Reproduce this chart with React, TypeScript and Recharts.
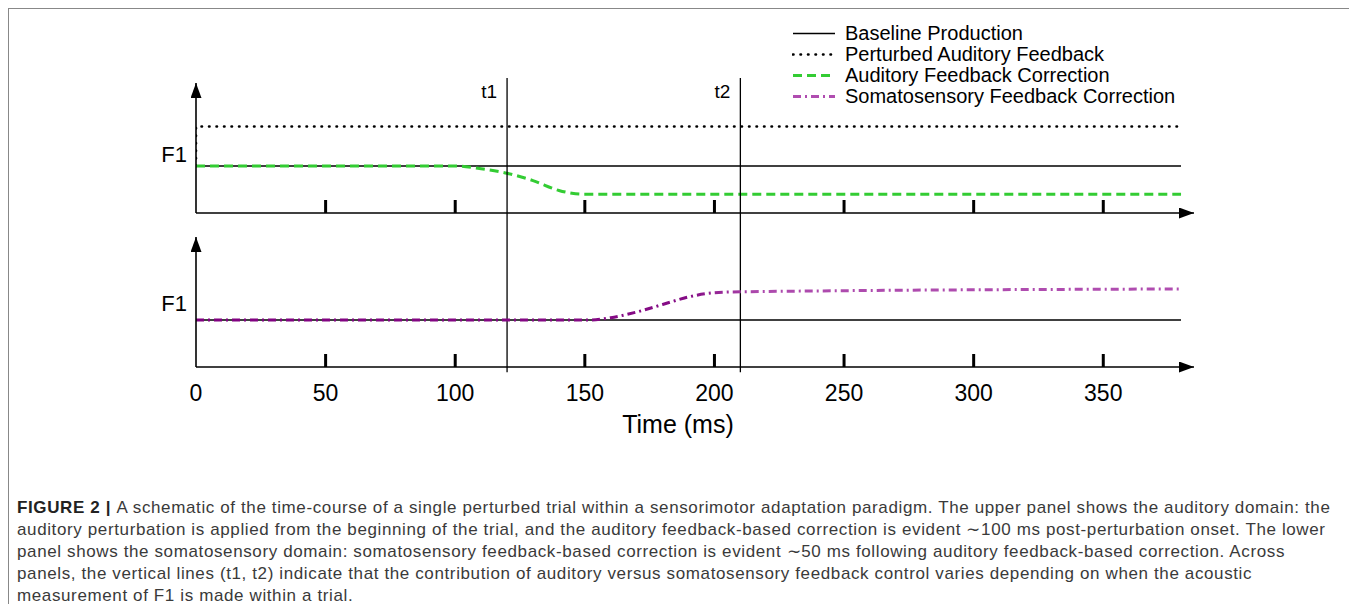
import React from "react";
import { LineChart, Line, XAxis, YAxis, ReferenceLine, Legend } from "recharts";

// time axis (ms)
const TICKS = [0, 50, 100, 150, 200, 250, 300, 350];
const T1 = 120;
const T2 = 210;

// F1 in arbitrary units (baseline = 1)
const baselineTime = [0, 380];
const baselineF1 = [1, 1];

const perturbedTime = [0, 0, 380];
const perturbedF1 = [1, 1.84, 1.84];

const auditoryTime = [0, 100, 110, 120, 130, 140, 145, 150, 380];
const auditoryF1 = [1, 1, 0.94, 0.845, 0.69, 0.48, 0.42, 0.4, 0.4];

const somaTime = [0, 152, 160, 170, 180, 190, 200, 210, 380];
const somaF1 = [1, 1, 1.05, 1.17, 1.33, 1.49, 1.58, 1.6, 1.66];

const LEGEND = [
  { name: "Baseline Production", color: "#000", dash: "", width: 1.4, cap: "butt" },
  { name: "Perturbed Auditory Feedback", color: "#000", dash: "0.5 7", width: 2.6, cap: "round" },
  { name: "Auditory Feedback Correction", color: "#33cc33", dash: "9 5", width: 3, cap: "butt" },
  { name: "Somatosensory Feedback Correction", color: "#b04db0", dash: "8 4 2 4", width: 3, cap: "butt" },
];

const CAPTION = [
  "A schematic of the time-course of a single perturbed trial within a sensorimotor adaptation paradigm. The upper panel shows the auditory domain: the",
  "auditory perturbation is applied from the beginning of the trial, and the auditory feedback-based correction is evident \u223C100 ms post-perturbation onset. The lower",
  "panel shows the somatosensory domain: somatosensory feedback-based correction is evident \u223C50 ms following auditory feedback-based correction. Across",
  "panels, the vertical lines (t1, t2) indicate that the contribution of auditory versus somatosensory feedback control varies depending on when the acoustic",
  "measurement of F1 is made within a trial.",
];

const toPoints = (ts: number[], vs: number[]) => ts.map((t, i) => ({ t, v: vs[i] }));

const FONT = "'Liberation Sans', Arial, sans-serif";
const W = 1200;
const H = 420;
const Y_MAX = 2.766;
const X_MAX = 385;

const makeTick = (showLabel: boolean) => (props: any) => {
  const { x, y, payload } = props;
  return (
    <g>
      {payload.value !== 0 && (
        <line x1={x} x2={x} y1={y} y2={y - 13} stroke="#000" strokeWidth={3} />
      )}
      {showLabel && (
        <text x={x} y={y + 34} textAnchor="middle" fontSize={23} fontFamily={FONT} fill="#000">
          {payload.value}
        </text>
      )}
    </g>
  );
};

const Arrows = () => (
  <defs>
    <marker id="arrowHead" viewBox="0 0 15 11" refX="15" refY="5.5" markerWidth="15" markerHeight="11"
      markerUnits="userSpaceOnUse" orient="auto-start-reverse">
      <path d="M0,0 L15,5.5 L0,11 z" fill="#000" />
    </marker>
    <linearGradient id="somaGrad" x1="0" x2="1" y1="0" y2="0">
      <stop offset="0" stopColor="#800080" />
      <stop offset="0.5" stopColor="#850c85" />
      <stop offset="0.57" stopColor="#ad4aad" />
      <stop offset="1" stopColor="#b04db0" />
    </linearGradient>
  </defs>
);

const LegendBox = () => (
  <div style={{ fontFamily: FONT, fontSize: 20, color: "#000" }}>
    {LEGEND.map((item) => (
      <div key={item.name} style={{ display: "flex", alignItems: "center", height: 21, whiteSpace: "nowrap" }}>
        <svg width={44} height={21} style={{ marginRight: 9 }}>
          <line x1={1} x2={43} y1={10.5} y2={10.5} stroke={item.color} strokeWidth={item.width}
            strokeDasharray={item.dash} strokeLinecap={item.cap as any} />
        </svg>
        <span>{item.name}</span>
      </div>
    ))}
  </div>
);

const tLabel = (text: string) => (props: any) => {
  const { viewBox } = props;
  return (
    <text x={viewBox.x - 10} y={viewBox.y + 20} textAnchor="end" fontSize={19} fontFamily={FONT} fill="#000">
      {text}
    </text>
  );
};

const axisStyle = { stroke: "#000", strokeWidth: 1.6, markerEnd: "url(#arrowHead)" };
const yAxisStyle = { stroke: "#000", strokeWidth: 1.6, markerStart: "url(#arrowHead)" };

export default function App() {
  return (
    <div style={{ position: "relative", width: 1345, height: 600, fontFamily: FONT }}>
      <div style={{ position: "absolute", left: 0, top: 0, width: 1344, height: 640, border: "1px solid #888",
        borderRightWidth: 2, borderRightColor: "#666", boxSizing: "border-box" }} />

      {/* upper panel: auditory domain */}
      <div style={{ position: "absolute", left: 0, top: 0 }}>
        <LineChart width={W} height={H} margin={{ top: 75, right: W - 188 - 998, bottom: H - 205 - 1, left: 187 }}>
          <Arrows />
          <XAxis type="number" dataKey="t" domain={[0, X_MAX]} ticks={TICKS} allowDataOverflow height={1}
            tickSize={0} tickMargin={0} tickLine={false} axisLine={axisStyle} tick={makeTick(false)} />
          <YAxis type="number" domain={[0, Y_MAX]} allowDataOverflow width={1} tick={false} tickLine={false}
            axisLine={yAxisStyle}
            label={{ value: "F1", position: "left", offset: 8, dy: 6, fontSize: 22, fill: "#000", fontFamily: FONT }} />
          <Line data={toPoints(baselineTime, baselineF1)} dataKey="v" type="linear" stroke="#000" strokeWidth={1.3}
            dot={false} isAnimationActive={false} />
          <Line data={toPoints(perturbedTime, perturbedF1)} dataKey="v" type="linear" stroke="#000" strokeWidth={2.6}
            strokeDasharray="0.5 7" strokeLinecap="round" dot={false} isAnimationActive={false} />
          <Line data={toPoints(auditoryTime, auditoryF1)} dataKey="v" type="monotone" stroke="#33cc33" strokeWidth={3}
            strokeDasharray="9 5" dot={false} isAnimationActive={false} />
          <Legend layout="vertical" align="center" verticalAlign="middle" content={() => <LegendBox />}
            wrapperStyle={{ left: 784, top: 15, width: 420, height: 90 }} />
        </LineChart>
      </div>

      {/* lower panel: somatosensory domain */}
      <div style={{ position: "absolute", left: 0, top: 0 }}>
        <LineChart width={W} height={H} margin={{ top: 229, right: W - 188 - 998, bottom: H - 359 - 1, left: 187 }}>
          <Arrows />
          <XAxis type="number" dataKey="t" domain={[0, X_MAX]} ticks={TICKS} allowDataOverflow height={1}
            tickSize={0} tickMargin={0} tickLine={false} axisLine={axisStyle} tick={makeTick(true)} />
          <YAxis type="number" domain={[0, Y_MAX]} allowDataOverflow width={1} tick={false} tickLine={false}
            axisLine={yAxisStyle}
            label={{ value: "F1", position: "left", offset: 8, dy: 1, fontSize: 22, fill: "#000", fontFamily: FONT }} />
          <ReferenceLine segment={[{ x: T1, y: -0.11 }, { x: T1, y: 6.15 }]} ifOverflow="visible" stroke="#000"
            strokeWidth={1.3} label={tLabel("t1")} />
          <ReferenceLine segment={[{ x: T2, y: -0.11 }, { x: T2, y: 6.15 }]} ifOverflow="visible" stroke="#000"
            strokeWidth={1.3} label={tLabel("t2")} />
          <Line data={toPoints(baselineTime, baselineF1)} dataKey="v" type="linear" stroke="#000" strokeWidth={1.3}
            dot={false} isAnimationActive={false} />
          <Line data={toPoints(somaTime, somaF1)} dataKey="v" type="monotone" stroke="url(#somaGrad)" strokeWidth={3}
            strokeDasharray="8 4 2 4" dot={false} isAnimationActive={false} />
        </LineChart>
      </div>

      <div style={{ position: "absolute", left: 470, top: 401, width: 400, textAlign: "center", fontSize: 25,
        fontFamily: FONT, color: "#000", lineHeight: "30px" }}>
        Time (ms)
      </div>

      <div style={{ position: "absolute", left: 9, top: 489, fontFamily: FONT, fontSize: 17, letterSpacing: 0.62,
        lineHeight: "22px", color: "#3a3a3a" }}>
        {CAPTION.map((line, i) => (
          <div key={i} style={{ whiteSpace: "nowrap" }}>
            {i === 0 && <b style={{ fontWeight: 700, color: "#222" }}>FIGURE 2 | </b>}
            {line}
          </div>
        ))}
      </div>
    </div>
  );
}
